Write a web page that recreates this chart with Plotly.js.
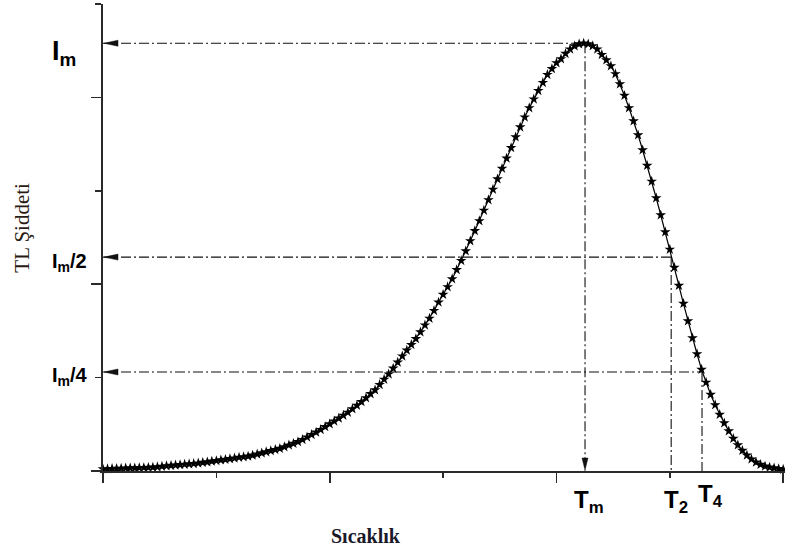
<!DOCTYPE html>
<html>
<head>
<meta charset="utf-8">
<script src="https://cdn.plot.ly/plotly-3.0.1.min.js"></script>
<style>
  html, body { margin: 0; padding: 0; background: #fff; }
  #chart { width: 785px; height: 554px; }
</style>
</head>
<body>
<div id="chart"></div>
<script>
// Glow curve: heating step (temperature, arbitrary units) and TL intensity
const temperature = [
  0, 1, 2, 3, 4, 5, 6, 7, 8, 9, 10, 11, 12, 13, 14, 15, 16, 17, 18, 19,
  20, 21, 22, 23, 24, 25, 26, 27, 28, 29, 30, 31, 32, 33, 34, 35, 36, 37, 38, 39,
  40, 41, 42, 43, 44, 45, 46, 47, 48, 49, 50, 51, 52, 53, 54, 55, 56, 57, 58, 59,
  60, 61, 62, 63, 64, 65, 66, 67, 68, 69, 70, 71, 72, 73, 74, 75, 76, 77, 78, 79,
  80, 81, 82, 83, 84, 85, 86, 87, 88, 89, 90, 91, 92, 93, 94, 95, 96, 97, 98, 99,
  100, 101, 102, 103, 104, 105, 106, 107, 108, 109, 110, 111, 112, 113, 114, 115, 116, 117, 118, 119,
  120, 121, 122, 123, 124, 125, 126, 127, 128, 129, 130, 131, 132, 133, 134, 135, 136, 137, 138, 139,
  140, 141, 142, 143, 144, 145, 146, 147, 148, 149, 150
];

const intensity = [
  0.021, 0.022, 0.025, 0.026, 0.028, 0.030, 0.031, 0.032, 0.034, 0.035,
  0.037, 0.040, 0.044, 0.049, 0.054, 0.058, 0.062, 0.066, 0.071, 0.075,
  0.079, 0.084, 0.090, 0.096, 0.104, 0.110, 0.117, 0.123, 0.131, 0.137,
  0.145, 0.151, 0.157, 0.168, 0.180, 0.192, 0.204, 0.216, 0.228, 0.240,
  0.258, 0.276, 0.294, 0.313, 0.336, 0.362, 0.389, 0.415, 0.443, 0.473,
  0.503, 0.533, 0.564, 0.595, 0.627, 0.665, 0.702, 0.741, 0.783, 0.826,
  0.867, 0.924, 0.981, 1.037, 1.099, 1.164, 1.230, 1.292, 1.352, 1.415,
  1.488, 1.561, 1.634, 1.717, 1.807, 1.889, 1.971, 2.056, 2.154, 2.252,
  2.355, 2.464, 2.572, 2.678, 2.790, 2.903, 3.015, 3.126, 3.239, 3.348,
  3.461, 3.575, 3.682, 3.788, 3.888, 3.981, 4.072, 4.158, 4.243, 4.306,
  4.369, 4.412, 4.469, 4.517, 4.550, 4.571, 4.579, 4.572, 4.551, 4.516,
  4.458, 4.400, 4.336, 4.251, 4.143, 4.020, 3.887, 3.747, 3.597, 3.437,
  3.271, 3.100, 2.923, 2.741, 2.559, 2.372, 2.179, 1.986, 1.793, 1.606,
  1.424, 1.253, 1.087, 0.948, 0.819, 0.707, 0.605, 0.514, 0.428, 0.348,
  0.278, 0.219, 0.168, 0.126, 0.093, 0.069, 0.051, 0.040, 0.031, 0.024,
  0.017
];

// Characteristic intensity levels and the temperatures where the curve reaches them
const levelLabels = ['I<sub>m</sub>', 'I<sub>m</sub>/2', 'I<sub>m</sub>/4'];
const levelValues = [4.58, 2.29, 1.06];
const tempLabels = ['T<sub>m</sub>', 'T<sub>2</sub>', 'T<sub>4</sub>'];
const tempValues = [106.3, 125.3, 132.1];

const X_RANGE = [0, 150.4];
const Y_RANGE = [0, 5];
const PLOT_W = 682, PLOT_H = 467;
const pxX = (X_RANGE[1] - X_RANGE[0]) / PLOT_W;   // data units per pixel
const pxY = (Y_RANGE[1] - Y_RANGE[0]) / PLOT_H;

const guideDash = '10px,3px,2px,3px';
const ink = '#111';
const axisInk = '#2a2a2a';

const traces = [];

// dash-dot guide lines: level -> curve, then curve -> temperature axis
levelValues.forEach((lv, i) => {
  traces.push({
    type: 'scatter', mode: 'lines',
    x: [X_RANGE[0], tempValues[i]], y: [lv, lv],
    line: { color: ink, width: 1.1, dash: guideDash },
    hoverinfo: 'skip'
  });
  traces.push({
    type: 'scatter', mode: 'lines',
    x: [tempValues[i], tempValues[i]], y: [lv, Y_RANGE[0]],
    line: { color: ink, width: 1.1, dash: guideDash },
    hoverinfo: 'skip'
  });
});

// the glow curve with star markers
traces.push({
  type: 'scatter', mode: 'lines+markers',
  x: temperature, y: intensity,
  line: { color: '#000', width: 1.2 },
  marker: { symbol: 'star', size: 8, color: '#000' },
  cliponaxis: false,
  hoverinfo: 'x+y'
});

// arrowheads: pointing left onto the intensity axis, and down onto T_m
const shapes = [];
levelValues.forEach(lv => {
  const tipX = X_RANGE[0] + 1 * pxX;
  const baseX = tipX + 14 * pxX;
  shapes.push({
    type: 'path', xref: 'x', yref: 'y',
    path: `M${tipX},${lv} L${baseX},${lv + 3 * pxY} L${baseX},${lv - 3 * pxY} Z`,
    fillcolor: ink, line: { color: ink, width: 0.5 }
  });
});
{
  const tx = tempValues[0];
  const tipY = Y_RANGE[0] + 1 * pxY;
  const baseY = tipY + 12 * pxY;
  shapes.push({
    type: 'path', xref: 'x', yref: 'y',
    path: `M${tx},${tipY} L${tx - 3 * pxX},${baseY} L${tx + 3 * pxX},${baseY} Z`,
    fillcolor: ink, line: { color: ink, width: 0.5 }
  });
}

const labelFamily = 'Liberation Sans, Arial, sans-serif';
const annotations = [];

// intensity-level labels on the left
const levelFontSizes = [27, 20, 20];
const levelShifts = [-10, -5, -4];
levelValues.forEach((lv, i) => {
  annotations.push({
    xref: 'paper', yref: 'y', x: -0.077, y: lv,
    xanchor: 'left', yanchor: 'middle',
    yshift: levelShifts[i],
    text: '<b>' + levelLabels[i] + '</b>',
    showarrow: false,
    font: { family: labelFamily, size: levelFontSizes[i], color: '#000' }
  });
});

// temperature labels under the axis
const tempShifts = [[4, -13], [5, -13], [8, -7]];
tempValues.forEach((tv, i) => {
  annotations.push({
    xref: 'x', yref: 'y', x: tv, y: Y_RANGE[0],
    xanchor: 'center', yanchor: 'top',
    xshift: tempShifts[i][0], yshift: tempShifts[i][1],
    text: '<b>' + tempLabels[i] + '</b>',
    showarrow: false,
    font: { family: labelFamily, size: 24, color: '#000' }
  });
});

// axis titles
annotations.push({
  xref: 'paper', yref: 'paper', x: -0.118, y: 0.52,
  xanchor: 'center', yanchor: 'middle',
  text: 'TL Şiddeti', textangle: -90, showarrow: false,
  font: { family: 'Liberation Serif', size: 21, color: '#2a1a14' }
});
annotations.push({
  xref: 'paper', yref: 'paper', x: 0.385, y: -0.14,
  xanchor: 'center', yanchor: 'middle',
  text: '<b>Sıcaklık</b>', showarrow: false,
  font: { family: 'Liberation Serif', size: 20, color: '#1a1a2a' }
});

const axisCommon = {
  showline: true, linecolor: axisInk, linewidth: 1.6,
  ticks: 'outside', tickcolor: axisInk, tickwidth: 1.6, ticklen: 10,
  showticklabels: false, showgrid: false, zeroline: false,
  tickmode: 'linear', tick0: 0, fixedrange: true
};

const layout = {
  width: 785, height: 554,
  margin: { l: 103, r: 0, t: 4, b: 83 },
  paper_bgcolor: '#fff', plot_bgcolor: '#fff',
  showlegend: false,
  xaxis: Object.assign({}, axisCommon, {
    range: X_RANGE, dtick: 50,
    minor: { ticks: 'outside', dtick: 25, ticklen: 5, tickcolor: axisInk, tickwidth: 1.6 }
  }),
  yaxis: Object.assign({}, axisCommon, {
    range: Y_RANGE, dtick: 2,
    minor: { ticks: 'outside', dtick: 1, ticklen: 6, tickcolor: axisInk, tickwidth: 1.6 }
  }),
  shapes: shapes,
  annotations: annotations
};

Plotly.newPlot('chart', traces, layout, { displayModeBar: false, staticPlot: true });
</script>
</body>
</html>
